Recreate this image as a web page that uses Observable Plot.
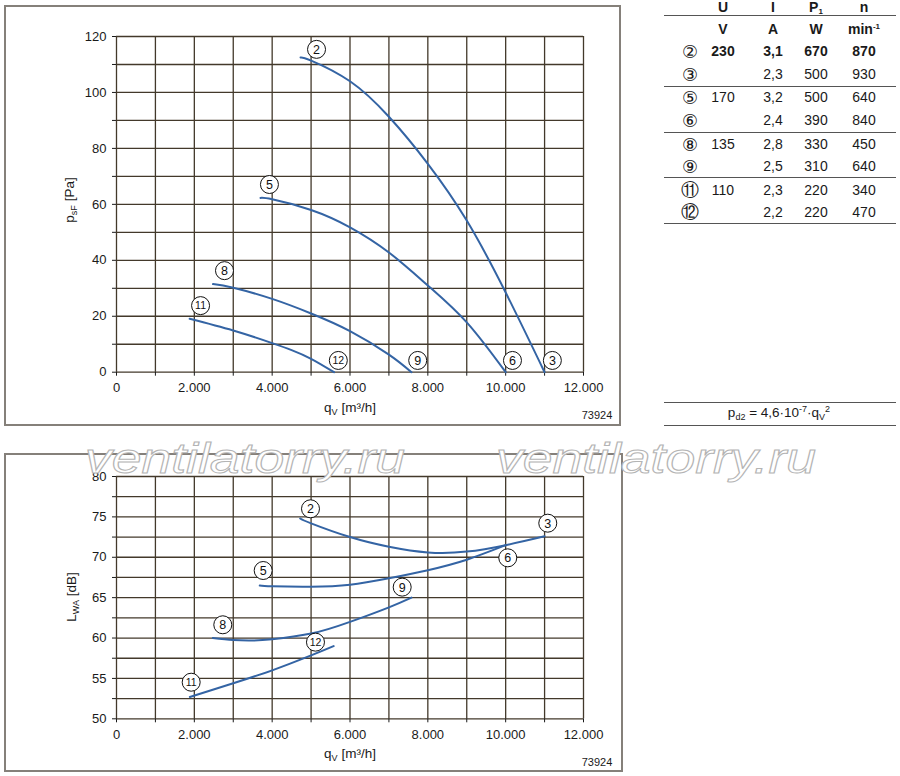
<!DOCTYPE html>
<html>
<head>
<meta charset="utf-8">
<script src="https://cdn.jsdelivr.net/npm/d3@7"></script>
<script src="https://cdn.jsdelivr.net/npm/@observablehq/plot@0.6"></script>
<style>
  html, body { margin: 0; padding: 0; background: #fff; }
  #page { position: relative; width: 900px; height: 776px; overflow: hidden; background: #fff;
          font-family: "Liberation Sans", Arial, Helvetica, sans-serif; color: #1a1a1a; }
  .abs { position: absolute; }
  .frame { position: absolute; box-sizing: border-box; border: 2px solid #85807a; }
  .c { position: absolute; transform: translate(-50%, -50%); white-space: nowrap; }
  .title { font-size: 13.5px; }
  .title sub { font-size: 9px; vertical-align: -3px; }
  .code { font-size: 11px; }
  .tcell { position: absolute; transform: translate(-50%, -50%); white-space: nowrap; font-size: 14px; }
  .hline { position: absolute; left: 664px; width: 232px; height: 0; border-top: 1.5px solid #555; }
</style>
</head>
<body>
<div id="page">
  <div class="frame" style="left:4px;top:5px;width:617px;height:421px;"></div>
  <div class="frame" style="left:4px;top:453px;width:619px;height:319px;"></div>
  <div id="top" class="abs" style="left:0;top:0;"></div>
  <div id="bottom" class="abs" style="left:0;top:440px;"></div>

  <div class="c title" style="left:70px;top:200px;transform:translate(-50%,-50%) rotate(-90deg);">p<sub>sF</sub> [Pa]</div>
  <div class="c title" style="left:350px;top:408px;">q<sub>V</sub> [m³/h]</div>
  <div class="c code" style="left:597px;top:415px;">73924</div>

  <div class="c title" style="left:72px;top:597px;transform:translate(-50%,-50%) rotate(-90deg);">L<sub>WA</sub> [dB]</div>
  <div class="c title" style="left:350px;top:754px;">q<sub>V</sub> [m³/h]</div>
  <div class="c code" style="left:597px;top:762px;">73924</div>

  <div id="table"></div>

  <div class="hline" style="top:402px;"></div>
  <div class="hline" style="top:425px;"></div>
  <div class="c" style="left:779px;top:413px;font-size:13.5px;">p<sub style="font-size:9px;vertical-align:-3px;">d2</sub> = 4,6·10<sup style="font-size:9px;vertical-align:5px;">-7</sup>·q<sub style="font-size:9px;vertical-align:-3px;">V</sub><sup style="font-size:9px;vertical-align:5px;">2</sup></div>

  <svg id="wm" class="abs" style="left:0;top:0;" width="900" height="776"></svg>
</div>
<script>
// ---------- data ----------
const qTicks = d3.range(0, 12001, 1000);
const pTicks = d3.range(0, 121, 10);
const lTicks = d3.range(50, 80.01, 2.5);

// pressure curves psF [Pa] vs qV [m3/h]
const pCurve2_3   = [[4730,112.5],[5000,111.4],[6000,104],[7000,91.3],[8000,74.5],[9000,54.2],[10000,28.5],[11000,0]];
const pCurve5_6   = [[3700,62.3],[4000,61.8],[5000,58],[6000,51.8],[7000,42.8],[8000,31],[9000,17.8],[10000,0]];
const pCurve8_9   = [[2480,31.5],[3000,30.2],[4000,26.2],[5000,21],[6000,14.7],[7000,6.3],[7580,0]];
const pCurve11_12 = [[1880,19.1],[3000,14.9],[4000,10.4],[4500,7.9],[5000,4.8],[5590,0]];

// sound power curves LWA [dB] vs qV [m3/h]
const lCurve2_3   = [[4720,74.8],[5000,74.2],[6000,72.5],[7000,71.3],[8000,70.6],[9000,70.7],[10000,71.5],[11000,72.6]];
const lCurve5_6   = [[3680,66.5],[4000,66.4],[5000,66.35],[6000,66.6],[7000,67.4],[8000,68.4],[9000,69.7],[10000,71.5]];
const lCurve8_9   = [[2475,60],[3000,59.75],[3500,59.7],[4000,59.85],[5000,60.55],[6000,62],[7000,63.8],[7580,65]];
const lCurve11_12 = [[1885,52.7],[3000,54.4],[4000,56],[5000,57.85],[5580,59]];

// circled curve labels
const labTopId = ["2","5","8","11","12","9","6","3"];
const labTopQ  = [5140, 3930, 2775, 2160, 5700, 7740, 10175, 11200];
const labTopP  = [115.4, 67.1, 36.3, 23.8, 4.2, 4.2, 4.2, 4.2];

const labBotId = ["2","5","8","11","12","9","6","3"];
const labBotQ  = [4985, 3769, 2731, 1919, 5113, 7341, 10054, 11082];
const labBotL  = [76.0, 68.36, 61.64, 54.53, 59.49, 66.3, 69.93, 74.22];

// table
const tabId = ["②","③","⑤","⑥","⑧","⑨","⑪","⑫"];
const tabU  = ["230","","170","","135","","110",""];
const tabI  = ["3,1","2,3","3,2","2,4","2,8","2,5","2,3","2,2"];
const tabP  = ["670","500","500","390","330","310","220","220"];
const tabN  = ["870","930","640","840","450","640","340","470"];

// ---------- styling ----------
const gridColor = "#43392b";
const blue = "#3464a4";
const font = "'Liberation Sans', Arial, Helvetica, sans-serif";
const fmtQ = d => d === 0 ? "0" : d3.format(",")(d).replace(/,/g, ".");

function curveMarks(curves) {
  return curves.map(c => Plot.line(c, {x: d => d[0], y: d => d[1], stroke: blue, strokeWidth: 2, curve: "natural"}));
}
function labelMarks(ids, xs, ys) {
  const data = ids.map((t, i) => ({t, x: xs[i], y: ys[i]}));
  return [
    Plot.dot(data, {x: "x", y: "y", r: 9, fill: "white", stroke: "#111", strokeWidth: 1}),
    Plot.text(data, {x: "x", y: "y", text: "t", fill: "#111", fontSize: d => d.t.length > 1 ? 10.5 : 12.5, dy: 0.5})
  ];
}

const topPlot = Plot.plot({
  width: 623, height: 430,
  marginLeft: 116, marginRight: 40, marginTop: 36, marginBottom: 58.3,
  x: {domain: [0, 12000], axis: null},
  y: {domain: [0, 120], axis: null},
  style: {fontFamily: font, fontSize: "13px", color: "#1a1a1a", background: "transparent", overflow: "visible"},
  marks: [
    Plot.gridX({ticks: qTicks, stroke: gridColor, strokeOpacity: 1, strokeWidth: 1.3}),
    Plot.gridY({ticks: pTicks, stroke: gridColor, strokeOpacity: 1, strokeWidth: 1.3}),
    Plot.axisX({ticks: qTicks, tickFormat: d => d % 2000 === 0 ? fmtQ(d) : "", tickSize: 4, tickPadding: 7, label: null, fontSize: 13}),
    Plot.axisY({ticks: pTicks, tickFormat: d => d % 20 === 0 ? d : "", tickSize: 4, tickPadding: 6, label: null, fontSize: 13}),
    ...curveMarks([pCurve2_3, pCurve5_6, pCurve8_9, pCurve11_12]),
    ...labelMarks(labTopId, labTopQ, labTopP)
  ]
});
document.getElementById("top").appendChild(topPlot);

const botPlot = Plot.plot({
  width: 623, height: 336,
  marginLeft: 116, marginRight: 40, marginTop: 36, marginBottom: 57.7,
  x: {domain: [0, 12000], axis: null},
  y: {domain: [50, 80], axis: null},
  style: {fontFamily: font, fontSize: "13px", color: "#1a1a1a", background: "transparent", overflow: "visible"},
  marks: [
    Plot.gridX({ticks: qTicks, stroke: gridColor, strokeOpacity: 1, strokeWidth: 1.3}),
    Plot.gridY({ticks: lTicks, stroke: gridColor, strokeOpacity: 1, strokeWidth: 1.3}),
    Plot.axisX({ticks: qTicks, tickFormat: d => d % 2000 === 0 ? fmtQ(d) : "", tickSize: 4, tickPadding: 7, label: null, fontSize: 13}),
    Plot.axisY({ticks: lTicks, tickFormat: d => d % 5 === 0 ? d : "", tickSize: 4, tickPadding: 6, label: null, fontSize: 13}),
    ...curveMarks([lCurve2_3, lCurve5_6, lCurve8_9, lCurve11_12]),
    ...labelMarks(labBotId, labBotQ, labBotL)
  ]
});
document.getElementById("bottom").appendChild(botPlot);

// ---------- table ----------
const tbl = document.getElementById("table");
const colX = {id: 690, U: 723, I: 773, P: 816, N: 864};
function cell(text, x, y, extra) {
  const d = document.createElement("div");
  d.className = "tcell";
  d.style.left = x + "px"; d.style.top = y + "px";
  if (extra) Object.assign(d.style, extra);
  d.innerHTML = text;
  tbl.appendChild(d);
}
const bold = {fontWeight: "bold"};
cell("U", colX.U, 7, bold);
cell("I", colX.I, 7, bold);
cell("P<sub style='font-size:8px;vertical-align:-2px;'>1</sub>", colX.P, 7, bold);
cell("n", colX.N, 7, bold);
cell("V", colX.U, 29, bold);
cell("A", colX.I, 29, bold);
cell("W", colX.P, 29, bold);
cell("min<sup style='font-size:8px;vertical-align:5px;'>-1</sup>", colX.N, 29, bold);
const rowY = [51, 74, 97, 120, 144, 166, 190, 212];
rowY.forEach((y, i) => {
  const ex = i === 0 ? bold : null;
  cell(tabId[i], colX.id, y, {fontFamily: "'DejaVu Sans', sans-serif", fontSize: "18px"});
  if (tabU[i]) cell(tabU[i], colX.U, y, ex);
  cell(tabI[i], colX.I, y, ex);
  cell(tabP[i], colX.P, y, ex);
  cell(tabN[i], colX.N, y, ex);
});
[15, 86, 132, 177, 223].forEach(y => {
  const l = document.createElement("div");
  l.className = "hline";
  l.style.top = y + "px";
  tbl.appendChild(l);
});

// ---------- watermark ----------
const wm = d3.select("#wm");
[[85, 473], [496, 473]].forEach(([x, y]) => {
  wm.append("text")
    .attr("x", x).attr("y", y)
    .attr("font-family", font).attr("font-style", "italic").attr("font-size", 42)
    .attr("textLength", 320).attr("lengthAdjust", "spacingAndGlyphs")
    .attr("fill", "white").attr("stroke", "#b4b4b4").attr("stroke-width", 1)
    .text("ventilatorry.ru");
});
</script>
</body>
</html>
